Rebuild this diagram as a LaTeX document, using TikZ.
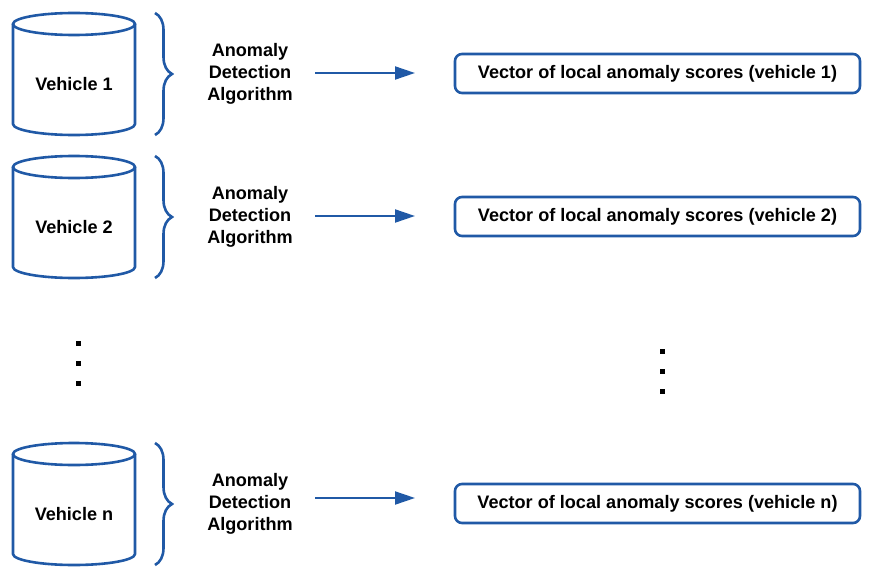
\documentclass[tikz,border=0pt]{standalone}
\usepackage{fontspec}
\setmainfont{Liberation Sans}
\usetikzlibrary{arrows.meta,decorations.pathreplacing}
\definecolor{lineblue}{RGB}{32,89,166}
\tikzset{
  dbline/.style={draw=lineblue, line width=2.6pt},
  txt/.style={font=\bfseries\fontsize{18.1}{22}\selectfont, align=center, inner sep=0pt},
  scorebox/.style={txt, draw=lineblue, line width=2.6pt, rounded corners=7pt,
    minimum width=405pt, minimum height=39pt},
  flow/.style={draw=lineblue, line width=2pt, -{Triangle[length=20pt,width=13pt]}},
  bracket/.style={decorate, decoration={brace, amplitude=17pt}, draw=lineblue, line width=2.6pt}
}
\begin{document}
\begin{tikzpicture}[x=1pt,y=-1pt]
   \useasboundingbox (0,0) rectangle (878,578);
   \foreach \i/\dy/\da in {1/0/0, 2/143/0, n/430/-5} {
    % database cylinder
    \draw[dbline] (13,24+\dy) -- (13,124+\dy)
      arc[start angle=180, end angle=0, x radius=61, y radius=11] -- (135,24+\dy);
    \draw[dbline] (74,24+\dy) ellipse[x radius=61, y radius=11];
    \node[txt] (veh\i) at (74,84+\dy) {Vehicle \i};
    \draw[bracket] (155,13+\dy) -- (155,135+\dy);
    \node[txt] (alg\i) at (250,74+\dy) {Anomaly\\Detection\\Algorithm};
    \coordinate (from\i) at (315,73+\dy+\da);
    \coordinate (to\i) at (415,73+\dy+\da);
    \draw[flow] (from\i) -- (to\i);
    \node[scorebox] (vec\i) at (657.5,73.5+\dy) {Vector of local anomaly scores (vehicle \i)};
   }
   \foreach \y in {343,363,383} {
    \fill[black] (75.5,\y-2.5) rectangle +(5,5);
   }
   \foreach \y in {351,371,391} {
    \fill[black] (659.5,\y-2.5) rectangle +(5,5);
   }
  \end{tikzpicture}
\end{document}
